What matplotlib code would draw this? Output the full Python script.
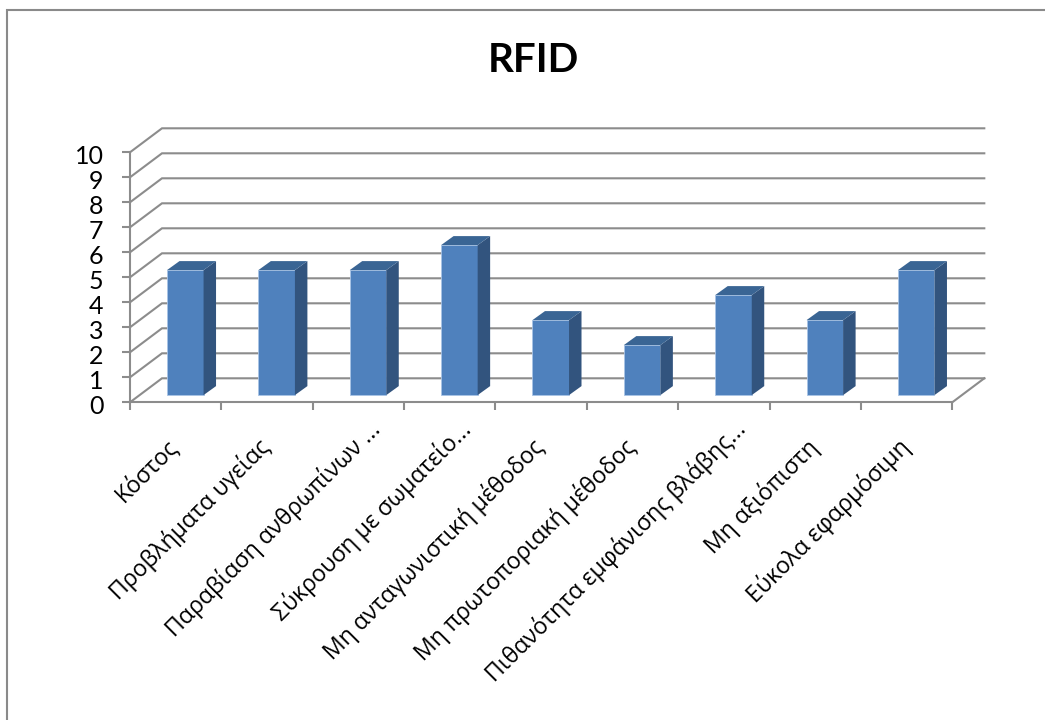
import matplotlib
matplotlib.use('Agg')
import matplotlib.pyplot as plt
from matplotlib.lines import Line2D
from matplotlib.patches import Polygon
from matplotlib.transforms import ScaledTranslation

# Datos del grafico
categorias = ['Κόστος', 'Προβλήματα υγείας', 'Παραβίαση ανθρωπίνων ...',
              'Σύκρουση με σωματείο...', 'Μη ανταγωνιστική μέθοδος',
              'Μη πρωτοποριακή μέθοδος', 'Πιθανότητα εμφάνισης βλάβης...',
              'Μη αξιόπιστη', 'Εύκολα εφαρμόσιμη']
valores = [5, 5, 5, 6, 3, 2, 4, 3, 5]
ticks_y = list(range(11))
titulo = 'RFID'

W, H = 1045, 720
plt.rcParams['font.family'] = ['Lato', 'Open Sans', 'DejaVu Sans']

GRIS = '#8c8c8c'
FRENTE = '#4f81bd'
LADO = '#32547e'
TECHO = '#3a6594'

fig = plt.figure(figsize=(W / 100, H / 100), dpi=100)

# Marco exterior: solo arriba y a la izquierda
fig.add_artist(Line2D([7 / W, 7 / W, 1], [0, 1 - 9.5 / H, 1 - 9.5 / H], transform=fig.transFigure,
                      color='#8a8a8a', lw=1.5, solid_joinstyle='miter'))

x0, x1 = 130, 952.3
y0, y1 = 402.3, 152.3
ax = fig.add_axes([x0 / W, 1 - y0 / H, (x1 - x0) / W, (y0 - y1) / H])
ax.set_xlim(0, len(categorias))
ax.set_ylim(0, 10)

# Profundidad de la caja 3D en unidades de datos
px_x = (x1 - x0) / len(categorias)
px_y = (y0 - y1) / 10
prof_x = 32 / px_x
prof_y = 24 / px_y

for s in ['top', 'right']:
    ax.spines[s].set_visible(False)
for s in ['left', 'bottom']:
    ax.spines[s].set_color(GRIS)
    ax.spines[s].set_linewidth(1.5)

# Lineas de la pared del fondo y de la pared izquierda
for v in ticks_y:
    ax.plot([0, prof_x, len(categorias) + prof_x], [v, v + prof_y, v + prof_y],
            color=GRIS, lw=1.5, clip_on=False, zorder=1, solid_joinstyle='miter')
ax.plot([len(categorias), len(categorias) + prof_x], [0, prof_y], color=GRIS, lw=1.5,
        clip_on=False, zorder=1)

# Barras con frente, lado y techo
ancho = 0.4
f = 0.3
off_x = prof_x * f
off_y = prof_y * f
lado_x = prof_x * 0.39
lado_y = prof_y * 0.375
centros = [i + 0.5 + off_x for i in range(len(valores))]
ax.bar(centros, valores, width=ancho, bottom=off_y, color=FRENTE, edgecolor='#a9c4e6',
       linewidth=0.6, zorder=3, clip_on=False)
for c, v in zip(centros, valores):
    der = c + ancho / 2
    izq = c - ancho / 2
    arriba = v + off_y
    ax.add_patch(Polygon([(der, off_y), (der + lado_x, off_y + lado_y),
                          (der + lado_x, arriba + lado_y), (der, arriba)],
                         closed=True, facecolor=LADO, edgecolor='none', zorder=3, clip_on=False))
    ax.add_patch(Polygon([(izq, arriba), (izq + lado_x, arriba + lado_y),
                          (der + lado_x, arriba + lado_y), (der, arriba)],
                         closed=True, facecolor=TECHO, edgecolor='none', zorder=3, clip_on=False))

# Ejes
ax.set_yticks(ticks_y)
ax.set_yticklabels([str(t) for t in ticks_y])
ax.set_xticks(range(len(categorias) + 1))
ax.set_xticklabels([])
ax.tick_params(axis='both', length=6, width=1.5, color=GRIS, labelsize=18, pad=13)

# Bajar un poco los numeros del eje y
bajar = ScaledTranslation(0, -2 / 100, fig.dpi_scale_trans)
for etiqueta in ax.get_yticklabels():
    etiqueta.set_transform(etiqueta.get_transform() + bajar)

# Las etiquetas recortadas terminan mas arriba por los puntos finales
for i, nombre in enumerate(categorias):
    desp = (9, -14) if nombre.endswith('...') else (-10, -32)
    ax.annotate(nombre, xy=(i + 0.5, 0), xycoords='data', xytext=desp,
                textcoords='offset pixels', rotation=45, rotation_mode='anchor',
                ha='right', va='top', fontsize=16.7, color='black', annotation_clip=False,
                family=['Open Sans', 'DejaVu Sans'])

fig.text(533 / W, 1 - 60 / H, titulo, fontsize=29, fontweight='bold', ha='center', va='center')

fig.savefig('out.png', dpi=100)
plt.close()
